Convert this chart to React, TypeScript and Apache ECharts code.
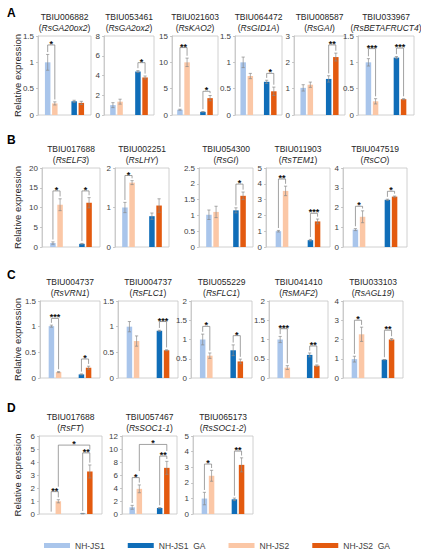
import React, { useEffect, useRef } from 'react';
import * as echarts from 'echarts';

// ---------- data ----------
const geneIds = ['TBIU006882','TBIU053461','TBIU021603','TBIU064472','TBIU008587','TBIU033967',
  'TBIU017688','TBIU002251','TBIU054300','TBIU011903','TBIU047519',
  'TBIU004737','TBIU004737','TBIU055229','TBIU041410','TBIU033103',
  'TBIU017688','TBIU057467','TBIU065173'];
const geneNames = ['RsGA20ox2','RsGA2ox2','RsKAO2','RsGID1A','RsGAI','RsBETAFRUCT4',
  'RsELF3','RsLHY','RsGI','RsTEM1','RsCO',
  'RsVRN1','RsFLC1','RsFLC1','RsMAF2','RsAGL19',
  'RsFT','RsSOC1-1','RsSOC1-2'];
const yMax = [1.5, 8, 15, 1.5, 3, 1.5, 20, 2, 2.5, 5, 4, 1.5, 1.5, 2, 2, 4, 6, 12, 5];
const yStep = [0.5, 2, 5, 0.5, 1, 0.5, 5, 1, 0.5, 1, 1, 0.5, 0.5, 0.5, 0.5, 1, 1, 2, 1];

const meanJS1 = [1.0, 1.0, 1.0, 1.0, 1.03, 1.0, 1.0, 1.0, 1.02, 1.0, 0.88, 1.01, 1.0, 1.0, 1.0, 0.98, 0.0, 1.03, 0.99];
const meanJS2 = [0.22, 1.35, 10.0, 0.74, 1.15, 0.26, 10.7, 1.63, 1.11, 3.55, 1.53, 0.115, 0.72, 0.58, 0.27, 2.27, 0.98, 3.87, 2.45];
const meanJS1GA = [0.26, 4.4, 0.6, 0.63, 1.37, 1.09, 0.8, 0.78, 1.16, 0.43, 2.39, 0.07, 0.92, 0.72, 0.6, 0.95, 0.03, 0.93, 0.94];
const meanJS2GA = [0.23, 3.8, 3.2, 0.45, 2.2, 0.3, 11.2, 1.05, 1.62, 1.62, 2.55, 0.2, 0.54, 0.43, 0.32, 2.0, 3.27, 7.1, 3.15];
const errJS1 = [0.15, 0.25, 0.1, 0.1, 0.12, 0.07, 0.3, 0.13, 0.15, 0.05, 0.05, 0.02, 0.1, 0.14, 0.08, 0.15, 0.0, 0.3, 0.4];
const errJS2 = [0.03, 0.25, 0.8, 0.05, 0.1, 0.05, 1.5, 0.05, 0.18, 0.3, 0.3, 0.01, 0.1, 0.07, 0.05, 0.37, 0.12, 0.6, 0.35];
const errJS1GA = [0.02, 0.1, 0.05, 0.03, 0.12, 0.02, 0.1, 0.08, 0.08, 0.05, 0.03, 0.01, 0.01, 0.14, 0.05, 0.01, 0.02, 0.05, 0.08];
const errJS2GA = [0.03, 0.15, 0.5, 0.08, 0.15, 0.01, 1.3, 0.17, 0.12, 0.15, 0.03, 0.03, 0.01, 0.06, 0.02, 0.05, 0.5, 1.0, 0.45];

// significance brackets: [barA, barB, level, mark, leftEnd?, rightEnd?]
// bar index: 0 NH-JS1, 1 NH-JS2, 2 NH-JS1_GA, 3 NH-JS2_GA
const sigBrackets: any[][] = [
  [[0, 1, 1.33, '*']],
  [[2, 3, 5.3, '*']],
  [[0, 1, 12.8, '**'], [2, 3, 4.5, '*']],
  [[2, 3, 0.79, '*']],
  [[2, 3, 2.66, '**']],
  [[0, 1, 1.26, '***'], [2, 3, 1.27, '***']],
  [[0, 1, 14.2, '*'], [2, 3, 14.2, '*']],
  [[0, 1, 1.81, '*']],
  [[2, 3, 1.99, '*']],
  [[0, 1, 4.3, '**'], [2, 3, 2.13, '***']],
  [[0, 1, 2.06, '*'], [2, 3, 2.82, '*']],
  [[0, 1, 1.16, '***'], [2, 3, 0.37, '*']],
  [[2, 3, 1.1, '***']],
  [[0, 1, 1.34, '*'], [2, 3, 1.1, '*']],
  [[0, 1, 1.28, '***'], [2, 3, 0.83, '**']],
  [[0, 1, 3.0, '*'], [2, 3, 2.48, '**']],
  [[0, 1, 1.72, '**'], [2, 3, 4.7, '**'], [1, 3, 5.3, '*', 2.1, 4.95]],
  [[0, 1, 5.6, '*'], [2, 3, 8.9, '**'], [1, 3, 10.7, '*', 6.6, 9.7]],
  [[0, 1, 3.2, '*'], [2, 3, 4.03, '**']],
];

const seriesNames = ['NH-JS1', 'NH-JS1_GA', 'NH-JS2', 'NH-JS2_GA'];
const panelLetters = ['A', 'B', 'C', 'D'];

// ---------- layout ----------
const panelRow = [0,0,0,0,0,0, 1,1,1,1,1, 2,2,2,2,2, 3,3,3];
const panelX = [
  [38, 91], [104, 154], [172, 218], [235, 282], [294, 345], [358, 414],
  [42, 100], [115, 169], [199, 253], [266, 330], [343, 407],
  [40, 100], [118, 178], [191, 252], [269, 328], [343, 403],
  [39, 102], [122, 177], [193, 253],
];
const rowTop = [36, 168, 301, 436];
const rowBottom = [115, 247, 378, 514];
const letterY = [13, 140, 275, 408];

const COL = { js1: '#a9c5eb', js1ga: '#0f6db8', js2: '#fbc7a6', js2ga: '#e35a0f' };
const FONT = '"Liberation Sans", Arial, sans-serif';
const BAR_W = 5.5;
const SLOT_OFF = (BAR_W * 1.3) / 2;

export default function App() {
  const ref = useRef<HTMLDivElement>(null);
  useEffect(() => {
    const chart = echarts.init(ref.current!, null, { renderer: 'svg' });
    const grid: any[] = [];
    const xAxis: any[] = [];
    const yAxis: any[] = [];
    const series: any[] = [];
    const graphic: any[] = [];

    for (let p = 0; p < geneIds.length; p++) {
      const row = panelRow[p];
      const [l, r] = panelX[p];
      const top = rowTop[row];
      const h = rowBottom[row] - top;
      grid.push({ left: l, top, width: r - l, height: h, show: true, borderColor: '#c4c4c4', borderWidth: 0.8 });
      xAxis.push({
        type: 'category', gridIndex: p, data: ['ctrl', 'GA'],
        axisLine: { show: false }, axisTick: { show: false }, axisLabel: { show: false },
      });
      yAxis.push({
        type: 'value', gridIndex: p, min: 0, max: yMax[p], interval: yStep[p],
        splitLine: { show: false },
        axisLine: { show: true, lineStyle: { color: '#c4c4c4', width: 0.8 } },
        axisTick: { show: true, length: 2, lineStyle: { color: '#a6a6a6', width: 0.6 } },
        axisLabel: { fontSize: 8, color: '#404040', margin: 4, fontFamily: FONT },
      });

      const means = [meanJS1[p], meanJS2[p], meanJS1GA[p], meanJS2GA[p]];
      const errs = [errJS1[p], errJS2[p], errJS1GA[p], errJS2GA[p]];
      const common = { type: 'bar', xAxisIndex: p, yAxisIndex: p, barWidth: BAR_W, barGap: '30%', silent: true };
      series.push({ ...common, name: seriesNames[0], stack: 'L' + p, data: [meanJS1[p], '-'], itemStyle: { color: COL.js1 } });
      series.push({ ...common, name: seriesNames[1], stack: 'L' + p, data: ['-', meanJS1GA[p]], itemStyle: { color: COL.js1ga } });
      series.push({ ...common, name: seriesNames[2], stack: 'R' + p, data: [meanJS2[p], '-'], itemStyle: { color: COL.js2 } });
      series.push({ ...common, name: seriesNames[3], stack: 'R' + p, data: ['-', meanJS2GA[p]], itemStyle: { color: COL.js2ga } });

      const slotX = (api: any, i: number, v: number) => {
        const c = api.coord([Math.floor(i / 2), v]);
        return [c[0] + (i % 2 ? SLOT_OFF : -SLOT_OFF), c[1]];
      };

      // error bars
      series.push({
        type: 'custom', xAxisIndex: p, yAxisIndex: p, silent: true, z: 5,
        encode: { x: 0, y: 1 },
        data: means.map((m, i) => [Math.floor(i / 2), m, errs[i], i]),
        renderItem: (params: any, api: any) => {
          const i = api.value(3);
          const v = api.value(1);
          const e = api.value(2);
          if (!(e > 0)) return { type: 'group', children: [] };
          const t = slotX(api, i, v + e);
          const b = slotX(api, i, Math.max(0, v - e));
          const st = { stroke: '#8a8a8a', lineWidth: 0.7 };
          return {
            type: 'group',
            children: [
              { type: 'line', shape: { x1: t[0], y1: t[1], x2: b[0], y2: b[1] }, style: st },
              { type: 'line', shape: { x1: t[0] - 1.6, y1: t[1], x2: t[0] + 1.6, y2: t[1] }, style: st },
              { type: 'line', shape: { x1: b[0] - 1.6, y1: b[1], x2: b[0] + 1.6, y2: b[1] }, style: st },
            ],
          };
        },
      });

      // significance brackets
      const brs = sigBrackets[p];
      series.push({
        type: 'custom', xAxisIndex: p, yAxisIndex: p, silent: true, z: 6,
        encode: { x: 0, y: 1 },
        data: brs.map((b) => [0, b[2]]),
        renderItem: (params: any, api: any) => {
          const b = brs[params.dataIndex];
          const a = b[0], c = b[1], level = b[2], mark = b[3];
          const pad = yMax[p] * 0.03;
          const endA = b[4] !== undefined ? b[4] : means[a] + errs[a] + pad;
          const endC = b[5] !== undefined ? b[5] : means[c] + errs[c] + pad;
          const pa = slotX(api, a, endA);
          const pl = slotX(api, a, level);
          const pc = slotX(api, c, endC);
          const plc = slotX(api, c, level);
          return {
            type: 'group',
            children: [
              {
                type: 'polyline',
                shape: { points: [[pa[0], pa[1]], [pl[0], pl[1]], [plc[0], plc[1]], [pc[0], pc[1]]] },
                style: { stroke: '#7a7a7a', lineWidth: 0.7, fill: 'none' },
              },
              {
                type: 'text',
                x: (pl[0] + plc[0]) / 2,
                y: pl[1] - 1,
                style: {
                  text: mark, fill: '#111', fontSize: 9, fontWeight: 'bold', fontFamily: FONT,
                  align: 'center', verticalAlign: 'middle',
                },
              },
            ],
          };
        },
      });

      // titles
      const cx = (l + r) / 2;
      graphic.push({
        type: 'text', x: cx, y: top - 19,
        style: { text: geneIds[p], fontSize: 8.5, fontFamily: FONT, fill: '#262626', align: 'center', verticalAlign: 'middle' },
      });
      graphic.push({
        type: 'text', x: cx, y: top - 8,
        style: {
          text: '{n|(}{i|' + geneNames[p] + '}{n|)}',
          align: 'center', verticalAlign: 'middle', fontSize: 8.5, fontFamily: FONT, fill: '#262626',
          rich: {
            n: { fontSize: 8.5, fontFamily: FONT, fill: '#262626' },
            i: { fontSize: 8.5, fontFamily: FONT, fontStyle: 'italic', fill: '#262626' },
          },
        },
      });
    }

    for (let row = 0; row < 4; row++) {
      graphic.push({
        type: 'text', x: 7, y: letterY[row],
        style: { text: panelLetters[row], fontSize: 12, fontWeight: 'bold', fontFamily: FONT, fill: '#000', align: 'left', verticalAlign: 'middle' },
      });
      graphic.push({
        type: 'text', x: 17, y: (rowTop[row] + rowBottom[row]) / 2, rotation: Math.PI / 2,
        style: { text: 'Relative expression', fontSize: 9.5, fontFamily: FONT, fill: '#262626', align: 'center', verticalAlign: 'middle' },
      });
    }

    chart.setOption({
      animation: false,
      grid, xAxis, yAxis, series, graphic,
      legend: {
        data: seriesNames,
        left: 39, top: 536,
        icon: 'rect', itemWidth: 26, itemHeight: 5, itemGap: 23,
        selectedMode: false,
        textStyle: { fontSize: 8.5, color: '#404040', fontFamily: FONT },
      },
    });
    return () => chart.dispose();
  }, []);
  return <div ref={ref} style={{ position: 'fixed', left: 0, top: 0, width: 421, height: 550, background: '#fff' }} />;
}
